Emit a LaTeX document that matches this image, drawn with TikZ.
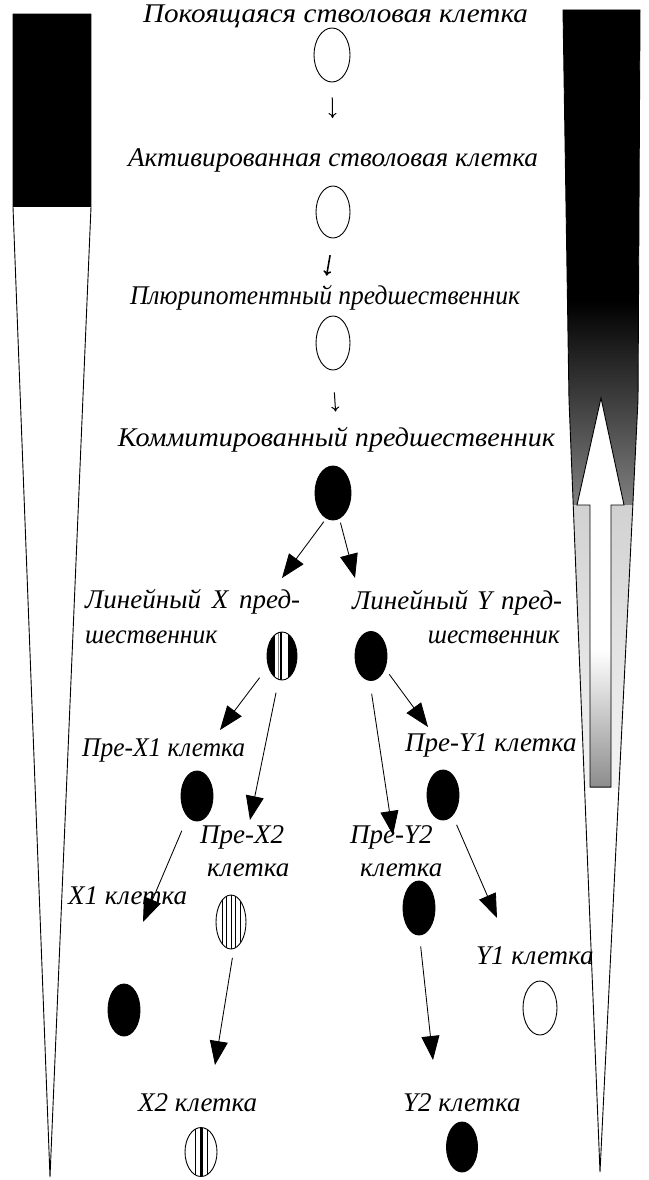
\documentclass[tikz,border=0pt]{standalone}
\usepackage{graphicx}
\usepackage{fontspec}
\setmainfont{Liberation Serif}
\usetikzlibrary{shapes.geometric,arrows.meta}

% set a line of text to a given width (in pt) by scaling it horizontally
\newcommand\fitw[2]{\sbox0{#2}\pgfmathparse{#1/\the\wd0}\scalebox{\pgfmathresult}[1]{\usebox0}}

\begin{document}
\begin{tikzpicture}[x=1pt,y=-1pt,
  lbl/.style={font=\itshape\fontsize{27}{31}\selectfont, inner sep=0pt},
  cell/.style={ellipse, draw, line width=0.9pt, inner sep=0pt, minimum width=32pt, minimum height=50pt},
  full/.style={cell, fill=black},
  barred/.style={cell, fill=black, path picture={
      \fill[white] ([xshift=-7pt]path picture bounding box.south) rectangle ([xshift=6pt]path picture bounding box.north);
      \draw[line width=1.6pt] ([xshift=-1pt]path picture bounding box.south) -- ([xshift=-1pt]path picture bounding box.north);
      \draw[gray, line width=0.8pt] ([xshift=-4pt]path picture bounding box.south) -- ([xshift=-4pt]path picture bounding box.north);
    }},
  striped/.style={cell, path picture={
      \foreach \s in {-9,-4.5,0,4.5,9}
        \draw[line width=0.7pt] ([xshift=\s pt]path picture bounding box.south) -- ([xshift=\s pt]path picture bounding box.north);
    }},
  banded/.style={cell, path picture={
      \foreach \s in {-6,6}
        \draw[line width=0.8pt] ([xshift=\s pt]path picture bounding box.south) -- ([xshift=\s pt]path picture bounding box.north);
      \draw[line width=3pt] (path picture bounding box.south) -- (path picture bounding box.north);
    }},
  big/.style={line width=0.85pt, -{Triangle[length=24pt,width=18pt]}},
  small/.style={line width=1pt, -{To[length=5pt,width=8pt]}},
]
\useasboundingbox (0,0) rectangle (648,1180);

% left wedge: black block on top of a narrowing white band
\fill[black] (13,14) rectangle (91,207);
\draw[line width=0.9pt] (13,14) -- (91,14) -- (91,207) -- (50,1177) -- (13,207) -- cycle;

% right wedge: dark at the top, fading downwards
\begin{scope}
  \clip (563,10) -- (640,10) -- (638,400) -- (600,1172) -- (569,400) -- cycle;
  \fill[black] (550,0) rectangle (650,300);
  \shade[top color=black, bottom color=black!50] (550,300) rectangle (650,505);
  \shade[top color=black!18, bottom color=black!4] (550,505) rectangle (650,787);
\end{scope}
\draw[line width=0.9pt] (563,10) -- (640,10) -- (638,400) -- (600,1172) -- (569,400) -- cycle;

% upward hollow arrow inside the right wedge
\fill[white] (601,398) -- (624,505) -- (611,505) -- (611,787) -- (590,787) -- (590,505) -- (577,505) -- cycle;
\shade[top color=white, bottom color=black!45] (590,650) rectangle (611,787);
\draw[line width=0.9pt] (601,398) -- (624,505) -- (611,505) -- (611,787) -- (590,787) -- (590,505) -- (577,505) -- cycle;

% main column
\node[lbl, anchor=base] (l1) at (335.5,23) {\fitw{385}{Покоящаяся стволовая клетка}};
\node[cell, minimum width=36pt, minimum height=54pt] (e1) at (332,55) {};
\node[lbl, anchor=base] (l2) at (333,166) {\fitw{410}{Активированная стволовая клетка}};
\node[cell, minimum width=34pt, minimum height=52pt] (e2) at (333,212) {};
\node[lbl, anchor=base] (l3) at (325,304) {\fitw{390}{Плюрипотентный предшественник}};
\node[cell, minimum width=34pt, minimum height=54pt] (e3) at (333,343) {};
\node[lbl, anchor=base] (l4) at (336.5,446) {\fitw{437}{Коммитированный предшественник}};
\node[full, minimum width=36pt, minimum height=54pt] (e4) at (333,493) {};

\draw[small, shorten <=15pt, shorten >=30pt] (e1.south) -- (l2.north);
\draw[small, line width=1.6pt, shorten <=17pt, shorten >=9pt] (e2.south) -- (l3.north);
\draw[small, shorten <=22pt, shorten >=15pt] (e3.south) -- (l4.north);

% lineage precursors
\node[lbl, anchor=base west] (l5a) at (85,608) {\makebox[215pt][s]{Линейный X пред-}};
\node[lbl, anchor=base west] (l5b) at (85,643) {\fitw{132}{шественник}};
\node[lbl, anchor=base west] (l6a) at (352,609) {\makebox[210pt][s]{Линейный Y пред-}};
\node[lbl, anchor=base east] (l6b) at (560,643) {\fitw{132}{шественник}};
\node[barred, minimum width=30pt, minimum height=48pt] (e5) at (282,656) {};
\node[full, minimum height=49pt] (e6) at (371,656) {};

% second-level precursors
\node[lbl, anchor=base west] (l7) at (82,756) {\fitw{163}{Пре-X1 клетка}};
\node[full] (e7) at (197,796) {};
\node[lbl, anchor=base west] (l8a) at (200,843) {Пре-X2};
\node[lbl, anchor=base west] (l8b) at (207,876) {клетка};
\node[striped, minimum width=30pt, minimum height=54pt] (e11) at (231,922) {};
\node[lbl, anchor=base west] (l9) at (405,751) {Пре-Y1 клетка};
\node[full] (e9) at (443,795) {};
\node[lbl, anchor=base west] (l10a) at (350,843) {Пре-Y2};
\node[lbl, anchor=base west] (l10b) at (360,876) {клетка};
\node[full, minimum height=54pt] (e10) at (419,908) {};

% mature cells
\node[lbl, anchor=base west] (l11) at (68,904) {X1 клетка};
\node[full, minimum height=52pt] (e8) at (124,1010) {};
\node[lbl, anchor=base west] (l12) at (476,964) {Y1 клетка};
\node[cell, minimum width=34pt, minimum height=54pt] (e12) at (540,1008) {};
\node[lbl, anchor=base west] (l13) at (138,1111) {X2 клетка};
\node[banded, minimum height=49pt] (e13) at (201,1152) {};
\node[lbl, anchor=base west] (l14) at (403,1111) {Y2 клетка};
\node[full, minimum width=31pt] (e14) at (462,1147) {};

% arrow tips
\coordinate (t1) at (282,578);
\coordinate (t2) at (355,578);
\coordinate (t3) at (220,730);
\coordinate (t4) at (250,820);
\coordinate (t5) at (428,727);
\coordinate (t6) at (393,835);
\coordinate (t7) at (143,922);
\coordinate (t8) at (215,1065);
\coordinate (t9) at (433,1060);
\coordinate (t10) at (497,918);

\draw[big, shorten <=4pt] (e4.255) -- (t1);
\draw[big, shorten <=4pt] (e4.284) -- (t2);
\draw[big, shorten <=14pt] (e5.217) -- (t3);
\draw[big, shorten <=13pt] (e5.262) -- (t4);
\draw[big, shorten <=7pt] (e6.318) -- (t5);
\draw[big, shorten <=13pt] (e6.267) -- (t6);
\draw[big, shorten <=15pt] (e7.246) -- (t7);
\draw[big, shorten <=9pt] (e11.276) -- (t8);
\draw[big, shorten <=11pt] (e10.271) -- (t9);
\draw[big, shorten <=10pt] (e9.295) -- (t10);
\end{tikzpicture}
\end{document}
